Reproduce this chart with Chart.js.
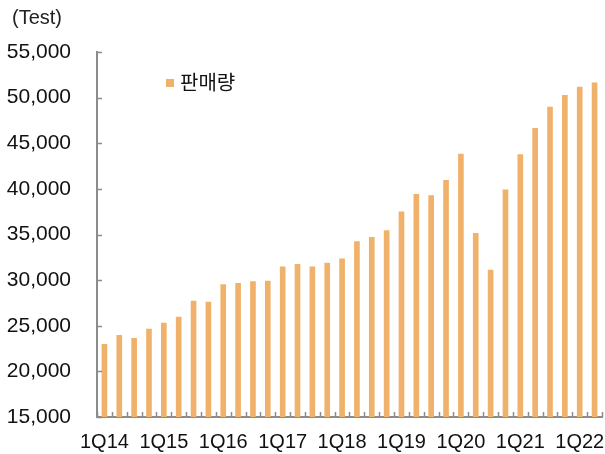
<!DOCTYPE html>
<html>
<head>
<meta charset="utf-8">
<script src="https://cdn.jsdelivr.net/npm/chart.js@4/dist/chart.umd.min.js"></script>
<style>
  html, body { margin: 0; padding: 0; background: #fff; }
  #wrap { position: relative; width: 605px; height: 454px; }
  canvas { position: absolute; left: 0; top: 0; }
</style>
</head>
<body>
<div id="wrap"><canvas id="c" width="605" height="454"></canvas></div>
<script>
const categories = [
  '1Q14','2Q14','3Q14','4Q14',
  '1Q15','2Q15','3Q15','4Q15',
  '1Q16','2Q16','3Q16','4Q16',
  '1Q17','2Q17','3Q17','4Q17',
  '1Q18','2Q18','3Q18','4Q18',
  '1Q19','2Q19','3Q19','4Q19',
  '1Q20','2Q20','3Q20','4Q20',
  '1Q21','2Q21','3Q21','4Q21',
  '1Q22','2Q22'
];
const salesVolume = [
  22970, 23950, 23620, 24640,
  25300, 25950, 27700, 27600,
  29500, 29650, 29850, 29890,
  31450, 31720, 31460, 31860,
  32340, 34230, 34700, 35430,
  37480, 39400, 39260, 40930,
  43820, 35140, 31090, 39890,
  43750, 46630, 48970, 50240,
  51150, 51620
];
const seriesName = '판매량';
const unitLabel = '(Test)';
const yTicks = [15000, 20000, 25000, 30000, 35000, 40000, 45000, 50000, 55000];

const FONT = '"Liberation Sans", "Noto Sans CJK KR", sans-serif';
const KFONT = '"Noto Sans CJK KR", sans-serif';
const BAR = '#F0B26B';
const AXIS = '#8c8c8c';

const extras = {
  id: 'extras',
  afterDraw(chart) {
    const ctx = chart.ctx;
    const xs = chart.scales.x, ys = chart.scales.y;
    const ca = chart.chartArea;
    ctx.save();
    ctx.strokeStyle = AXIS;
    ctx.lineWidth = 1.5;
    ctx.beginPath();
    yTicks.forEach(v => {
      const y = Math.round(ys.getPixelForValue(v)) + 0.5;
      ctx.moveTo(ca.left, y); ctx.lineTo(ca.left + 5, y);
    });
    const half = (xs.getPixelForValue(1) - xs.getPixelForValue(0)) / 2;
    for (let i = 0; i <= categories.length; i++) {
      const x = Math.round(xs.getPixelForValue(i) - half) + 0.5;
      ctx.moveTo(x, ca.bottom); ctx.lineTo(x, ca.bottom - 5);
    }
    ctx.stroke();
    // unit label
    ctx.fillStyle = '#222';
    ctx.font = '20px ' + FONT;
    ctx.textAlign = 'left';
    ctx.textBaseline = 'middle';
    ctx.fillText(unitLabel, 12, 18);
    // legend
    ctx.fillStyle = BAR;
    ctx.fillRect(166, 79, 8, 8);
    ctx.fillStyle = '#111';
    ctx.font = '20px ' + KFONT;
    ctx.fillText(seriesName, 180, 82);
    ctx.restore();
  }
};

new Chart(document.getElementById('c'), {
  type: 'bar',
  data: {
    labels: categories,
    datasets: [{
      label: seriesName,
      data: salesVolume,
      backgroundColor: BAR,
      borderWidth: 0,
      barThickness: 5
    }]
  },
  options: {
    responsive: false,
    animation: false,
    devicePixelRatio: 1,
    layout: { padding: { top: 52, right: 3, left: 0, bottom: 0 } },
    plugins: { legend: { display: false }, tooltip: { enabled: false } },
    scales: {
      x: {
        offset: true,
        grid: { display: false },
        border: { display: true, color: AXIS, width: 2 },
        ticks: {
          autoSkip: false,
          maxRotation: 0,
          padding: 5,
          color: '#111',
          font: { family: FONT, size: 20 },
          callback: (v, i) => (i % 4 === 0 ? categories[i] : '')
        },
        afterFit: s => { s.height = 37; }
      },
      y: {
        min: 15000,
        max: 55000,
        grid: { display: false },
        border: { display: true, color: AXIS, width: 2 },
        ticks: {
          stepSize: 5000,
          padding: 18,
          color: '#111',
          font: { family: FONT, size: 21 },
          callback: v => v.toLocaleString('en-US')
        },
        afterFit: s => { s.width = 97; }
      }
    }
  },
  plugins: [extras]
});
</script>
</body>
</html>
